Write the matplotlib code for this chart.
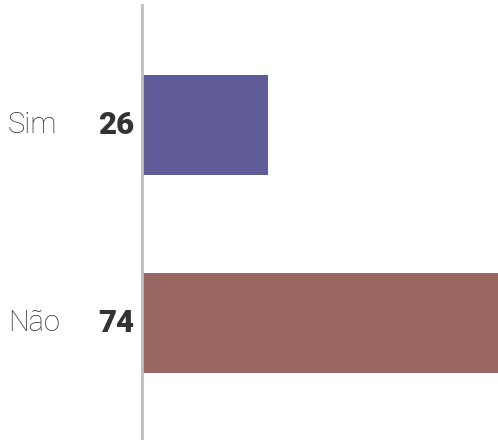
import matplotlib.pyplot as plt

categories = ["Sim", "Não"]
values = [26, 74]
colors = ["#5f5c99", "#9a6763"]

W, H = 498, 440
fig = plt.figure(figsize=(W / 100, H / 100), dpi=100)
ax = fig.add_axes([143 / W, 0, 1 - 143 / W, 435 / H])

pos = list(range(len(categories)))
ax.barh(pos, values, height=100 / 198, color=colors)
ax.set_xlim(0, 74)
ax.set_ylim(1 + 117 / 198, -120 / 198)

for s in ["top", "right", "bottom"]:
    ax.spines[s].set_visible(False)
ax.spines["left"].set_color("#bdbdbd")
ax.spines["left"].set_linewidth(2)
ax.spines["left"].set_position(("outward", 1))
ax.set_xticks([])
ax.set_yticks([])

# rótulos à esquerda
for p, cat, v in zip(pos, categories, values):
    y = ax.transData.transform((0, p))[1] / fig.dpi / (H / 100)
    fig.text(8 / W, y, cat, ha="left", va="center", fontsize=21,
             family="Roboto", color="#333333", fontweight="light")
    fig.text(134 / W, y, str(v), ha="right", va="center", fontsize=22.5,
             family="Roboto", color="#333333", fontweight="heavy")

fig.savefig("out.png", dpi=100)
